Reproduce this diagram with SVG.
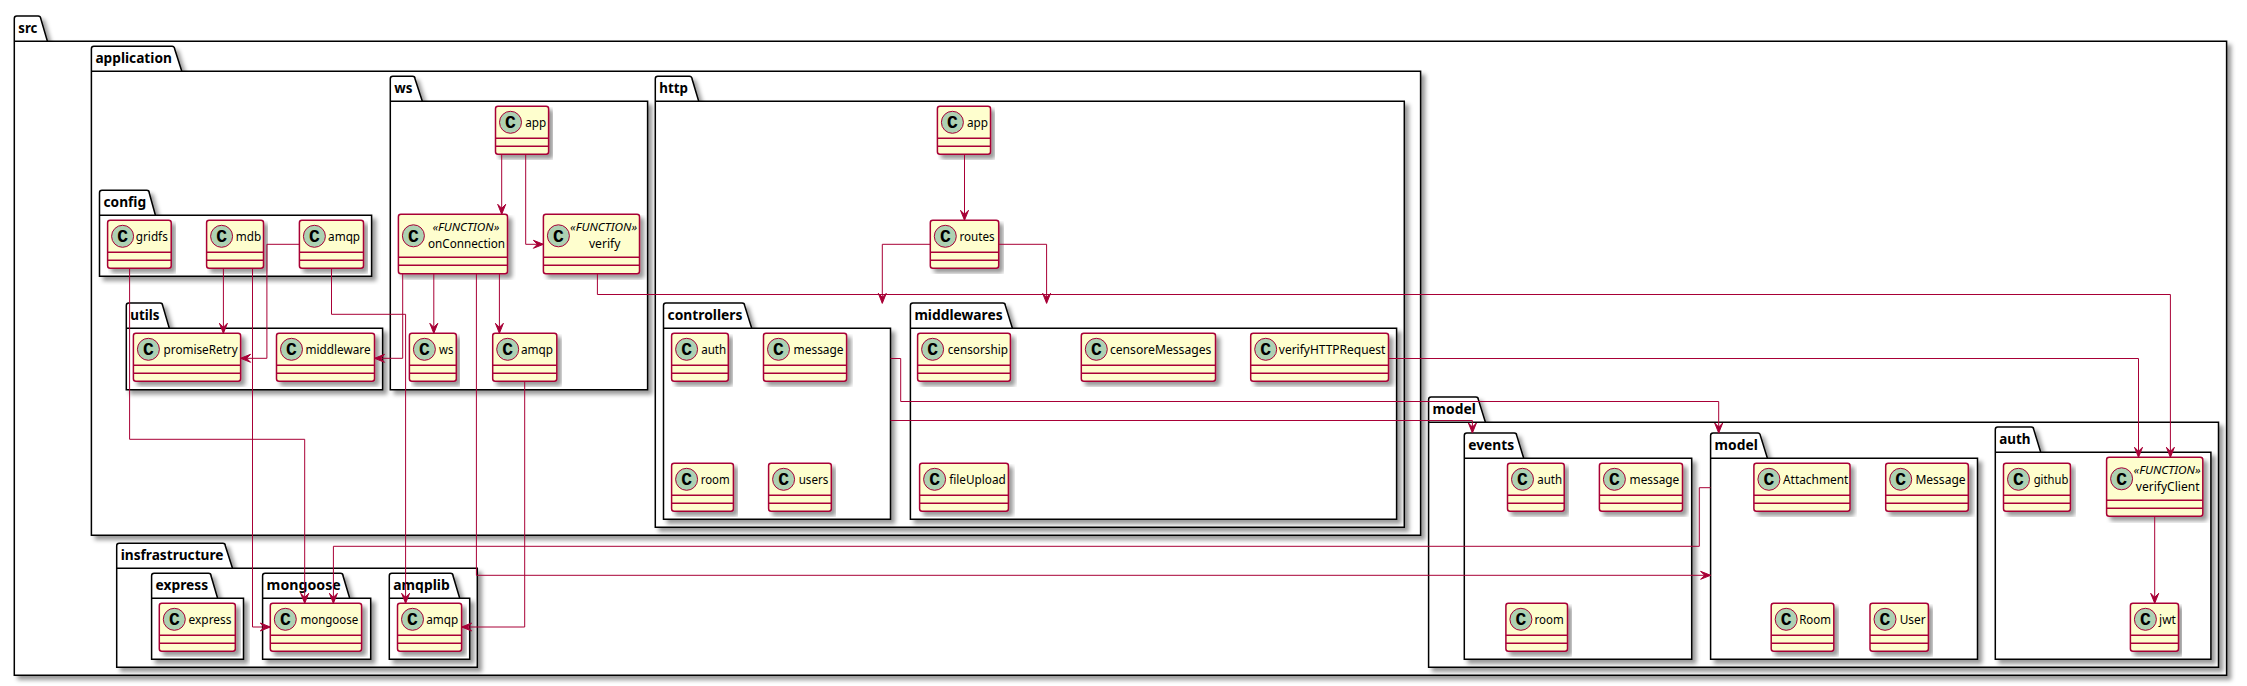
<svg xmlns="http://www.w3.org/2000/svg" width="2247" height="686" viewBox="0 0 2247 686">
<style>
text{font-family:"Noto Sans","Open Sans",sans-serif;font-size:12px;fill:#000}
.pkg{fill:#fff;stroke:#000;stroke-width:1.5;filter:url(#s)}
.sep{stroke:#000;stroke-width:1.5}
.pl{font-weight:bold;font-size:14px}
.box{fill:#FEFECE;stroke:#A80036;stroke-width:1.5;filter:url(#s)}
.ln{stroke:#A80036;stroke-width:1.5}
.cir{fill:#ADD1B2;stroke:#A80036;stroke-width:1}
.c{font-family:"Liberation Mono",monospace;font-weight:bold;font-size:18px;text-anchor:middle}
.st{font-style:italic;font-size:11px}
#edges path{fill:none;stroke:#A80036;stroke-width:1;marker-end:url(#a)}
</style>
<defs>
<filter id="s" x="-5%" y="-5%" width="112%" height="115%" filterUnits="objectBoundingBox">
<feGaussianBlur result="b" stdDeviation="2"/>
<feColorMatrix type="matrix" in="b" result="c" values="0 0 0 0 0 0 0 0 0 0 0 0 0 0 0 0 0 0 .4 0"/>
<feOffset in="c" result="o" dx="4" dy="4"/>
<feBlend in="SourceGraphic" in2="o" mode="normal"/>
</filter>
<marker id="a" markerUnits="userSpaceOnUse" markerWidth="14" markerHeight="12" refX="11" refY="6" orient="auto">
<path d="M11,6 L1,2 L5,6 L1,10 Z" fill="#A80036" stroke="#A80036" stroke-width="1"/>
</marker>
</defs>
<g id="packages">
<g id="pkg-src"><path class="pkg" d="M14.3,41.3 V18.5 A2.5,2.5 0 0 1 16.8,16 H38 A2.5,2.5 0 0 1 40.7,18.5 L47.4,41.3 H2226.6 V675.3 H14.3 Z"/><line class="sep" x1="14.3" y1="41.3" x2="47.4" y2="41.3"/><text class="pl" x="18.3" y="33.3" textLength="19" lengthAdjust="spacingAndGlyphs">src</text></g>
<g id="pkg-application"><path class="pkg" d="M91.4,71.3 V48.8 A2.5,2.5 0 0 1 93.9,46.3 H172 A2.5,2.5 0 0 1 174.6,48.8 L181.8,71.3 H1420.6 V535.3 H91.4 Z"/><line class="sep" x1="91.4" y1="71.3" x2="181.8" y2="71.3"/><text class="pl" x="95.4" y="63.3" textLength="76.5" lengthAdjust="spacingAndGlyphs">application</text></g>
<g id="pkg-ws"><path class="pkg" d="M390.3,101.3 V78.8 A2.5,2.5 0 0 1 392.8,76.3 H412.5 A2.5,2.5 0 0 1 415,78.8 L422.3,101.3 H647.6 V389.7 H390.3 Z"/><line class="sep" x1="390.3" y1="101.3" x2="422.3" y2="101.3"/><text class="pl" x="394.3" y="93.3" textLength="18.2" lengthAdjust="spacingAndGlyphs">ws</text></g>
<g id="pkg-http"><path class="pkg" d="M655.3,101.3 V78.8 A2.5,2.5 0 0 1 657.8,76.3 H689.5 A2.5,2.5 0 0 1 692,78.8 L698.7,101.3 H1404.3 V527.3 H655.3 Z"/><line class="sep" x1="655.3" y1="101.3" x2="698.7" y2="101.3"/><text class="pl" x="659.3" y="93.3" textLength="28.7" lengthAdjust="spacingAndGlyphs">http</text></g>
<g id="pkg-config"><path class="pkg" d="M99.5,215.3 V192.8 A2.5,2.5 0 0 1 102,190.3 H146.7 A2.5,2.5 0 0 1 149.2,192.8 L155.4,215.3 H371.6 V276.3 H99.5 Z"/><line class="sep" x1="99.5" y1="215.3" x2="155.4" y2="215.3"/><text class="pl" x="103.5" y="207.3" textLength="42.6" lengthAdjust="spacingAndGlyphs">config</text></g>
<g id="pkg-utils"><path class="pkg" d="M126.3,328.3 V305.5 A2.5,2.5 0 0 1 128.8,303 H160.1 A2.5,2.5 0 0 1 162.6,305.5 L169.3,328.3 H382.6 V389.7 H126.3 Z"/><line class="sep" x1="126.3" y1="328.3" x2="169.3" y2="328.3"/><text class="pl" x="130.3" y="320.3" textLength="29.2" lengthAdjust="spacingAndGlyphs">utils</text></g>
<g id="pkg-controllers"><path class="pkg" d="M663.5,328.3 V305.5 A2.5,2.5 0 0 1 666,303 H742.1 A2.5,2.5 0 0 1 744.6,305.5 L751.7,328.3 H890.5 V519.3 H663.5 Z"/><line class="sep" x1="663.5" y1="328.3" x2="751.7" y2="328.3"/><text class="pl" x="667.5" y="320.3" textLength="75" lengthAdjust="spacingAndGlyphs">controllers</text></g>
<g id="pkg-middlewares"><path class="pkg" d="M910.4,328.3 V305.5 A2.5,2.5 0 0 1 912.9,303 H1002.8 A2.5,2.5 0 0 1 1005.3,305.5 L1012.4,328.3 H1396.6 V519.3 H910.4 Z"/><line class="sep" x1="910.4" y1="328.3" x2="1012.4" y2="328.3"/><text class="pl" x="914.4" y="320.3" textLength="88.3" lengthAdjust="spacingAndGlyphs">middlewares</text></g>
<g id="pkg-infrastructure"><path class="pkg" d="M116.7,568.3 V545.8 A2.5,2.5 0 0 1 119.2,543.3 H222.8 A2.5,2.5 0 0 1 225.3,545.8 L232.5,568.3 H477.3 V667.3 H116.7 Z"/><line class="sep" x1="116.7" y1="568.3" x2="232.5" y2="568.3"/><text class="pl" x="120.7" y="560.3" textLength="102.8" lengthAdjust="spacingAndGlyphs">insfrastructure</text></g>
<g id="pkg-express"><path class="pkg" d="M151.6,598.3 V575.8 A2.5,2.5 0 0 1 154.1,573.3 H208.5 A2.5,2.5 0 0 1 211,575.8 L217.6,598.3 H243.5 V659.3 H151.6 Z"/><line class="sep" x1="151.6" y1="598.3" x2="217.6" y2="598.3"/><text class="pl" x="155.6" y="590.3" textLength="52.6" lengthAdjust="spacingAndGlyphs">express</text></g>
<g id="pkg-mongoose"><path class="pkg" d="M262.6,598.3 V575.8 A2.5,2.5 0 0 1 265.1,573.3 H340.5 A2.5,2.5 0 0 1 343,575.8 L349.7,598.3 H370.7 V659.3 H262.6 Z"/><line class="sep" x1="262.6" y1="598.3" x2="349.7" y2="598.3"/><text class="pl" x="266.6" y="590.3" textLength="74.1" lengthAdjust="spacingAndGlyphs">mongoose</text></g>
<g id="pkg-amqplib"><path class="pkg" d="M389.3,598.3 V575.8 A2.5,2.5 0 0 1 391.8,573.3 H450.5 A2.5,2.5 0 0 1 453,575.8 L459.7,598.3 H469.7 V659.3 H389.3 Z"/><line class="sep" x1="389.3" y1="598.3" x2="459.7" y2="598.3"/><text class="pl" x="393.3" y="590.3" textLength="56.4" lengthAdjust="spacingAndGlyphs">amqplib</text></g>
<g id="pkg-model-outer"><path class="pkg" d="M1428.6,422.3 V399.5 A2.5,2.5 0 0 1 1431.1,397 H1475.8 A2.5,2.5 0 0 1 1478.3,399.5 L1485.4,422.3 H2218.5 V667.3 H1428.6 Z"/><line class="sep" x1="1428.6" y1="422.3" x2="1485.4" y2="422.3"/><text class="pl" x="1432.6" y="414.3" textLength="43.2" lengthAdjust="spacingAndGlyphs">model</text></g>
<g id="pkg-events"><path class="pkg" d="M1464.3,458.3 V435.5 A2.5,2.5 0 0 1 1466.8,433 H1514.2 A2.5,2.5 0 0 1 1516.7,435.5 L1523.7,458.3 H1691.7 V659.3 H1464.3 Z"/><line class="sep" x1="1464.3" y1="458.3" x2="1523.7" y2="458.3"/><text class="pl" x="1468.3" y="450.3" textLength="45.9" lengthAdjust="spacingAndGlyphs">events</text></g>
<g id="pkg-model-inner"><path class="pkg" d="M1710.6,458.3 V435.5 A2.5,2.5 0 0 1 1713.1,433 H1757.8 A2.5,2.5 0 0 1 1760.3,435.5 L1767.4,458.3 H1977.5 V659.3 H1710.6 Z"/><line class="sep" x1="1710.6" y1="458.3" x2="1767.4" y2="458.3"/><text class="pl" x="1714.6" y="450.3" textLength="43.2" lengthAdjust="spacingAndGlyphs">model</text></g>
<g id="pkg-auth"><path class="pkg" d="M1995.3,452.3 V429.5 A2.5,2.5 0 0 1 1997.8,427 H2031.2 A2.5,2.5 0 0 1 2033.7,429.5 L2040.7,452.3 H2210.9 V659.3 H1995.3 Z"/><line class="sep" x1="1995.3" y1="452.3" x2="2040.7" y2="452.3"/><text class="pl" x="1999.3" y="444.3" textLength="31.3" lengthAdjust="spacingAndGlyphs">auth</text></g>
</g>
<g id="config-gridfs"><rect class="box" x="107.6" y="220.3" width="63.6" height="48" rx="2.5"/><line class="ln" x1="107.6" y1="252.3" x2="171.2" y2="252.3"/><line class="ln" x1="107.6" y1="260.3" x2="171.2" y2="260.3"/><circle class="cir" cx="122.6" cy="236.3" r="11"/><text class="c" x="122.6" y="242.3">C</text><text x="135.8" y="241.3" textLength="32" lengthAdjust="spacingAndGlyphs">gridfs</text></g>
<g id="config-mdb"><rect class="box" x="206.6" y="220.3" width="56.9" height="48" rx="2.5"/><line class="ln" x1="206.6" y1="252.3" x2="263.5" y2="252.3"/><line class="ln" x1="206.6" y1="260.3" x2="263.5" y2="260.3"/><circle class="cir" cx="221.6" cy="236.3" r="11"/><text class="c" x="221.6" y="242.3">C</text><text x="235.8" y="241.3" textLength="25.4" lengthAdjust="spacingAndGlyphs">mdb</text></g>
<g id="config-amqp"><rect class="box" x="299.4" y="220.3" width="64.1" height="48" rx="2.5"/><line class="ln" x1="299.4" y1="252.3" x2="363.5" y2="252.3"/><line class="ln" x1="299.4" y1="260.3" x2="363.5" y2="260.3"/><circle class="cir" cx="314.4" cy="236.3" r="11"/><text class="c" x="314.4" y="242.3">C</text><text x="328.1" y="241.3" textLength="32" lengthAdjust="spacingAndGlyphs">amqp</text></g>
<g id="utils-promiseRetry"><rect class="box" x="133.4" y="333.3" width="107.2" height="48" rx="2.5"/><line class="ln" x1="133.4" y1="365.3" x2="240.6" y2="365.3"/><line class="ln" x1="133.4" y1="373.3" x2="240.6" y2="373.3"/><circle class="cir" cx="148.4" cy="349.3" r="11"/><text class="c" x="148.4" y="355.3">C</text><text x="163.6" y="354.3" textLength="74.1" lengthAdjust="spacingAndGlyphs">promiseRetry</text></g>
<g id="utils-middleware"><rect class="box" x="276.5" y="333.3" width="98" height="48" rx="2.5"/><line class="ln" x1="276.5" y1="365.3" x2="374.5" y2="365.3"/><line class="ln" x1="276.5" y1="373.3" x2="374.5" y2="373.3"/><circle class="cir" cx="291.5" cy="349.3" r="11"/><text class="c" x="291.5" y="355.3">C</text><text x="305.6" y="354.3" textLength="65" lengthAdjust="spacingAndGlyphs">middleware</text></g>
<g id="ws-app"><rect class="box" x="495.5" y="106.3" width="53.1" height="48" rx="2.5"/><line class="ln" x1="495.5" y1="138.3" x2="548.6" y2="138.3"/><line class="ln" x1="495.5" y1="146.3" x2="548.6" y2="146.3"/><circle class="cir" cx="510.5" cy="122.3" r="11"/><text class="c" x="510.5" y="128.3">C</text><text x="525.2" y="127.3" textLength="21" lengthAdjust="spacingAndGlyphs">app</text></g>
<g id="ws-onConnection"><rect class="box" x="398.4" y="214.3" width="109.1" height="59.4" rx="2.5"/><line class="ln" x1="398.4" y1="257.3" x2="507.5" y2="257.3"/><line class="ln" x1="398.4" y1="265.3" x2="507.5" y2="265.3"/><circle class="cir" cx="413.4" cy="235.8" r="11"/><text class="c" x="413.4" y="241.8">C</text><text class="st" x="432.4" y="231.3" textLength="67" lengthAdjust="spacingAndGlyphs">«FUNCTION»</text><text x="428" y="248" textLength="77" lengthAdjust="spacingAndGlyphs">onConnection</text></g>
<g id="ws-verify"><rect class="box" x="543.4" y="214.3" width="96.1" height="59.4" rx="2.5"/><line class="ln" x1="543.4" y1="257.3" x2="639.5" y2="257.3"/><line class="ln" x1="543.4" y1="265.3" x2="639.5" y2="265.3"/><circle class="cir" cx="558.4" cy="235.8" r="11"/><text class="c" x="558.4" y="241.8">C</text><text class="st" x="570.1" y="231.3" textLength="67" lengthAdjust="spacingAndGlyphs">«FUNCTION»</text><text x="588.9" y="248" textLength="31.6" lengthAdjust="spacingAndGlyphs">verify</text></g>
<g id="ws-ws"><rect class="box" x="409.4" y="333.3" width="46.9" height="48" rx="2.5"/><line class="ln" x1="409.4" y1="365.3" x2="456.3" y2="365.3"/><line class="ln" x1="409.4" y1="373.3" x2="456.3" y2="373.3"/><circle class="cir" cx="424.4" cy="349.3" r="11"/><text class="c" x="424.4" y="355.3">C</text><text x="439" y="354.3" textLength="14.3" lengthAdjust="spacingAndGlyphs">ws</text></g>
<g id="ws-amqp"><rect class="box" x="492.7" y="333.3" width="64.1" height="48" rx="2.5"/><line class="ln" x1="492.7" y1="365.3" x2="556.8" y2="365.3"/><line class="ln" x1="492.7" y1="373.3" x2="556.8" y2="373.3"/><circle class="cir" cx="507.7" cy="349.3" r="11"/><text class="c" x="507.7" y="355.3">C</text><text x="521" y="354.3" textLength="32" lengthAdjust="spacingAndGlyphs">amqp</text></g>
<g id="http-app"><rect class="box" x="937.4" y="106.3" width="53.1" height="48" rx="2.5"/><line class="ln" x1="937.4" y1="138.3" x2="990.5" y2="138.3"/><line class="ln" x1="937.4" y1="146.3" x2="990.5" y2="146.3"/><circle class="cir" cx="952.4" cy="122.3" r="11"/><text class="c" x="952.4" y="128.3">C</text><text x="967" y="127.3" textLength="21" lengthAdjust="spacingAndGlyphs">app</text></g>
<g id="http-routes"><rect class="box" x="930.3" y="220.3" width="68.4" height="48" rx="2.5"/><line class="ln" x1="930.3" y1="252.3" x2="998.7" y2="252.3"/><line class="ln" x1="930.3" y1="260.3" x2="998.7" y2="260.3"/><circle class="cir" cx="945.3" cy="236.3" r="11"/><text class="c" x="945.3" y="242.3">C</text><text x="959.4" y="241.3" textLength="35.2" lengthAdjust="spacingAndGlyphs">routes</text></g>
<g id="ctrl-auth"><rect class="box" x="671.6" y="333.3" width="56.7" height="48" rx="2.5"/><line class="ln" x1="671.6" y1="365.3" x2="728.3" y2="365.3"/><line class="ln" x1="671.6" y1="373.3" x2="728.3" y2="373.3"/><circle class="cir" cx="686.6" cy="349.3" r="11"/><text class="c" x="686.6" y="355.3">C</text><text x="701.2" y="354.3" textLength="25" lengthAdjust="spacingAndGlyphs">auth</text></g>
<g id="ctrl-message"><rect class="box" x="763.5" y="333.3" width="83.1" height="48" rx="2.5"/><line class="ln" x1="763.5" y1="365.3" x2="846.6" y2="365.3"/><line class="ln" x1="763.5" y1="373.3" x2="846.6" y2="373.3"/><circle class="cir" cx="778.5" cy="349.3" r="11"/><text class="c" x="778.5" y="355.3">C</text><text x="793.6" y="354.3" textLength="50" lengthAdjust="spacingAndGlyphs">message</text></g>
<g id="ctrl-room"><rect class="box" x="671.6" y="463.3" width="61.8" height="48" rx="2.5"/><line class="ln" x1="671.6" y1="495.3" x2="733.4" y2="495.3"/><line class="ln" x1="671.6" y1="503.3" x2="733.4" y2="503.3"/><circle class="cir" cx="686.6" cy="479.3" r="11"/><text class="c" x="686.6" y="485.3">C</text><text x="700.7" y="484.3" textLength="29" lengthAdjust="spacingAndGlyphs">room</text></g>
<g id="ctrl-users"><rect class="box" x="768.6" y="463.3" width="62.7" height="48" rx="2.5"/><line class="ln" x1="768.6" y1="495.3" x2="831.3" y2="495.3"/><line class="ln" x1="768.6" y1="503.3" x2="831.3" y2="503.3"/><circle class="cir" cx="783.6" cy="479.3" r="11"/><text class="c" x="783.6" y="485.3">C</text><text x="798.7" y="484.3" textLength="29.6" lengthAdjust="spacingAndGlyphs">users</text></g>
<g id="mw-censorship"><rect class="box" x="917.6" y="333.3" width="92.8" height="48" rx="2.5"/><line class="ln" x1="917.6" y1="365.3" x2="1010.4" y2="365.3"/><line class="ln" x1="917.6" y1="373.3" x2="1010.4" y2="373.3"/><circle class="cir" cx="932.6" cy="349.3" r="11"/><text class="c" x="932.6" y="355.3">C</text><text x="947.7" y="354.3" textLength="60.2" lengthAdjust="spacingAndGlyphs">censorship</text></g>
<g id="mw-censoreMessages"><rect class="box" x="1081.3" y="333.3" width="134.2" height="48" rx="2.5"/><line class="ln" x1="1081.3" y1="365.3" x2="1215.5" y2="365.3"/><line class="ln" x1="1081.3" y1="373.3" x2="1215.5" y2="373.3"/><circle class="cir" cx="1096.3" cy="349.3" r="11"/><text class="c" x="1096.3" y="355.3">C</text><text x="1109.9" y="354.3" textLength="101.5" lengthAdjust="spacingAndGlyphs">censoreMessages</text></g>
<g id="mw-verifyHTTPRequest"><rect class="box" x="1250.7" y="333.3" width="137.8" height="48" rx="2.5"/><line class="ln" x1="1250.7" y1="365.3" x2="1388.5" y2="365.3"/><line class="ln" x1="1250.7" y1="373.3" x2="1388.5" y2="373.3"/><circle class="cir" cx="1265.7" cy="349.3" r="11"/><text class="c" x="1265.7" y="355.3">C</text><text x="1278.8" y="354.3" textLength="106.6" lengthAdjust="spacingAndGlyphs">verifyHTTPRequest</text></g>
<g id="mw-fileUpload"><rect class="box" x="919.6" y="463.3" width="88.8" height="48" rx="2.5"/><line class="ln" x1="919.6" y1="495.3" x2="1008.4" y2="495.3"/><line class="ln" x1="919.6" y1="503.3" x2="1008.4" y2="503.3"/><circle class="cir" cx="934.6" cy="479.3" r="11"/><text class="c" x="934.6" y="485.3">C</text><text x="949.2" y="484.3" textLength="56.6" lengthAdjust="spacingAndGlyphs">fileUpload</text></g>
<g id="infra-express"><rect class="box" x="159.3" y="603.3" width="76" height="48" rx="2.5"/><line class="ln" x1="159.3" y1="635.3" x2="235.3" y2="635.3"/><line class="ln" x1="159.3" y1="643.3" x2="235.3" y2="643.3"/><circle class="cir" cx="174.3" cy="619.3" r="11"/><text class="c" x="174.3" y="625.3">C</text><text x="188.5" y="624.3" textLength="43" lengthAdjust="spacingAndGlyphs">express</text></g>
<g id="infra-mongoose"><rect class="box" x="270.3" y="603.3" width="91.3" height="48" rx="2.5"/><line class="ln" x1="270.3" y1="635.3" x2="361.6" y2="635.3"/><line class="ln" x1="270.3" y1="643.3" x2="361.6" y2="643.3"/><circle class="cir" cx="285.3" cy="619.3" r="11"/><text class="c" x="285.3" y="625.3">C</text><text x="300.4" y="624.3" textLength="57.9" lengthAdjust="spacingAndGlyphs">mongoose</text></g>
<g id="infra-amqp"><rect class="box" x="397.5" y="603.3" width="64.1" height="48" rx="2.5"/><line class="ln" x1="397.5" y1="635.3" x2="461.6" y2="635.3"/><line class="ln" x1="397.5" y1="643.3" x2="461.6" y2="643.3"/><circle class="cir" cx="412.5" cy="619.3" r="11"/><text class="c" x="412.5" y="625.3">C</text><text x="426.2" y="624.3" textLength="32" lengthAdjust="spacingAndGlyphs">amqp</text></g>
<g id="events-auth"><rect class="box" x="1507.5" y="463.3" width="56.7" height="48" rx="2.5"/><line class="ln" x1="1507.5" y1="495.3" x2="1564.2" y2="495.3"/><line class="ln" x1="1507.5" y1="503.3" x2="1564.2" y2="503.3"/><circle class="cir" cx="1522.5" cy="479.3" r="11"/><text class="c" x="1522.5" y="485.3">C</text><text x="1537.2" y="484.3" textLength="24.9" lengthAdjust="spacingAndGlyphs">auth</text></g>
<g id="events-message"><rect class="box" x="1599.4" y="463.3" width="83.1" height="48" rx="2.5"/><line class="ln" x1="1599.4" y1="495.3" x2="1682.5" y2="495.3"/><line class="ln" x1="1599.4" y1="503.3" x2="1682.5" y2="503.3"/><circle class="cir" cx="1614.4" cy="479.3" r="11"/><text class="c" x="1614.4" y="485.3">C</text><text x="1629.6" y="484.3" textLength="49.7" lengthAdjust="spacingAndGlyphs">message</text></g>
<g id="events-room"><rect class="box" x="1505.9" y="603.3" width="61.6" height="48" rx="2.5"/><line class="ln" x1="1505.9" y1="635.3" x2="1567.5" y2="635.3"/><line class="ln" x1="1505.9" y1="643.3" x2="1567.5" y2="643.3"/><circle class="cir" cx="1520.9" cy="619.3" r="11"/><text class="c" x="1520.9" y="625.3">C</text><text x="1534.5" y="624.3" textLength="29.2" lengthAdjust="spacingAndGlyphs">room</text></g>
<g id="model-Attachment"><rect class="box" x="1753.9" y="463.3" width="96.1" height="48" rx="2.5"/><line class="ln" x1="1753.9" y1="495.3" x2="1850" y2="495.3"/><line class="ln" x1="1753.9" y1="503.3" x2="1850" y2="503.3"/><circle class="cir" cx="1768.9" cy="479.3" r="11"/><text class="c" x="1768.9" y="485.3">C</text><text x="1783" y="484.3" textLength="65.4" lengthAdjust="spacingAndGlyphs">Attachment</text></g>
<g id="model-Message"><rect class="box" x="1885.7" y="463.3" width="82.6" height="48" rx="2.5"/><line class="ln" x1="1885.7" y1="495.3" x2="1968.3" y2="495.3"/><line class="ln" x1="1885.7" y1="503.3" x2="1968.3" y2="503.3"/><circle class="cir" cx="1900.7" cy="479.3" r="11"/><text class="c" x="1900.7" y="485.3">C</text><text x="1915.4" y="484.3" textLength="50.2" lengthAdjust="spacingAndGlyphs">Message</text></g>
<g id="model-Room"><rect class="box" x="1771.2" y="603.3" width="62.6" height="48" rx="2.5"/><line class="ln" x1="1771.2" y1="635.3" x2="1833.8" y2="635.3"/><line class="ln" x1="1771.2" y1="643.3" x2="1833.8" y2="643.3"/><circle class="cir" cx="1786.2" cy="619.3" r="11"/><text class="c" x="1786.2" y="625.3">C</text><text x="1799.2" y="624.3" textLength="31.9" lengthAdjust="spacingAndGlyphs">Room</text></g>
<g id="model-User"><rect class="box" x="1870" y="603.3" width="58.4" height="48" rx="2.5"/><line class="ln" x1="1870" y1="635.3" x2="1928.4" y2="635.3"/><line class="ln" x1="1870" y1="643.3" x2="1928.4" y2="643.3"/><circle class="cir" cx="1885" cy="619.3" r="11"/><text class="c" x="1885" y="625.3">C</text><text x="1899.7" y="624.3" textLength="25.9" lengthAdjust="spacingAndGlyphs">User</text></g>
<g id="auth-github"><rect class="box" x="2003.5" y="463.3" width="66.9" height="48" rx="2.5"/><line class="ln" x1="2003.5" y1="495.3" x2="2070.4" y2="495.3"/><line class="ln" x1="2003.5" y1="503.3" x2="2070.4" y2="503.3"/><circle class="cir" cx="2018.5" cy="479.3" r="11"/><text class="c" x="2018.5" y="485.3">C</text><text x="2033.7" y="484.3" textLength="34.6" lengthAdjust="spacingAndGlyphs">github</text></g>
<g id="auth-verifyClient"><rect class="box" x="2106.6" y="457.3" width="96.2" height="59" rx="2.5"/><line class="ln" x1="2106.6" y1="500.3" x2="2202.8" y2="500.3"/><line class="ln" x1="2106.6" y1="508.3" x2="2202.8" y2="508.3"/><circle class="cir" cx="2121.6" cy="478.8" r="11"/><text class="c" x="2121.6" y="484.8">C</text><text class="st" x="2133.6" y="474.3" textLength="67" lengthAdjust="spacingAndGlyphs">«FUNCTION»</text><text x="2135.8" y="491" textLength="63.7" lengthAdjust="spacingAndGlyphs">verifyClient</text></g>
<g id="auth-jwt"><rect class="box" x="2130.4" y="603.3" width="48.1" height="48" rx="2.5"/><line class="ln" x1="2130.4" y1="635.3" x2="2178.5" y2="635.3"/><line class="ln" x1="2130.4" y1="643.3" x2="2178.5" y2="643.3"/><circle class="cir" cx="2145.4" cy="619.3" r="11"/><text class="c" x="2145.4" y="625.3">C</text><text x="2159.1" y="624.3" textLength="16.7" lengthAdjust="spacingAndGlyphs">jwt</text></g>
<g id="edges">
<path d="M501.7,154.3 V214.3"/>
<path d="M525.7,154.3 V244.3 H543.4"/>
<path d="M964.5,154.3 V220.3"/>
<path d="M930.3,244.3 H882.3 V303.3"/>
<path d="M998.7,244.3 H1046.6 V303.3"/>
<path d="M597.4,273.7 V294.5 H2170.4 V457.3"/>
<path d="M1388.5,358.5 H2138.5 V457.3"/>
<path d="M890.5,358.5 H900.7 V401.5 H1718.7 V433"/>
<path d="M890.5,420.5 H1472.4 V433"/>
<path d="M1710.6,487.7 H1699.3 V546.3 H333.4 V603.3"/>
<path d="M476.4,273.7 V575.3 H1710.6"/>
<path d="M433.8,273.7 V333.3"/>
<path d="M499.4,273.7 V333.3"/>
<path d="M402.7,273.7 V358.3 H374.5"/>
<path d="M331.5,268.3 V314.3 H405.6 V603.3"/>
<path d="M299.4,244.3 H266.9 V358.3 H240.6"/>
<path d="M223.4,268.3 V333.3"/>
<path d="M252.5,268.3 V627 H270.3"/>
<path d="M129.6,268.3 V439.3 H304.7 V603.3"/>
<path d="M524.7,381.3 V627 H461.6"/>
<path d="M2154.7,516.3 V603.3"/>
</g>
</svg>
